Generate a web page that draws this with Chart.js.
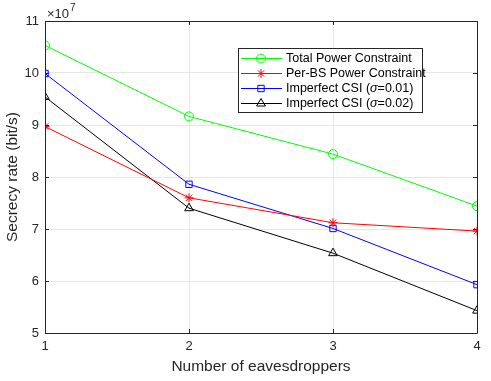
<!DOCTYPE html>
<html>
<head>
<meta charset="utf-8">
<script src="https://cdn.jsdelivr.net/npm/chart.js@4/dist/chart.umd.min.js"></script>
<style>
  html, body { margin: 0; padding: 0; background: #fff; }
  #wrap { width: 491px; height: 381px; }
</style>
</head>
<body>
<div id="wrap"><canvas id="secrecyChart" width="491" height="381"></canvas></div>
<script>
// x axis: number of eavesdroppers
const eavesdroppers = [1, 2, 3, 4];

// secrecy rate, in units of 1e7 bit/s
const totalPower = [10.53, 9.165, 8.44, 7.44];
const perBsPower = [8.97, 7.60, 7.12, 6.96];
const imperfect001 = [9.99, 7.86, 7.01, 5.93];
const imperfect002 = [9.54, 7.40, 6.535, 5.43];

const yTicks = [5, 6, 7, 8, 9, 10, 11];
const seriesNames = [
  ["Total Power Constraint"],
  ["Per-BS Power Constraint"],
  ["Imperfect CSI (", "σ", "=0.01)"],
  ["Imperfect CSI (", "σ", "=0.02)"]
];

const FONT = "'Liberation Sans', Arial, Helvetica, sans-serif";

function toPoints(values) {
  return values.map((v, i) => ({ x: eavesdroppers[i], y: v }));
}

function makeDataset(values, color, pointStyle, radius) {
  return {
    data: toPoints(values),
    borderColor: color,
    backgroundColor: "rgba(0,0,0,0)",
    borderWidth: 1,
    pointStyle: pointStyle,
    pointRadius: radius,
    pointBorderColor: color,
    pointBackgroundColor: "rgba(0,0,0,0)",
    pointBorderWidth: 1,
    tension: 0
  };
}

// MATLAB style box, inward ticks, exponent label and legend
const matlabFrame = {
  id: "matlabFrame",
  afterDraw(chart) {
    const ctx = chart.ctx;
    const a = chart.chartArea;
    const xs = chart.scales.x, ys = chart.scales.y;
    ctx.save();
    ctx.strokeStyle = "#262626";
    ctx.lineWidth = 1;
    ctx.beginPath();
    ctx.rect(Math.round(a.left) + 0.5, Math.round(a.top) + 0.5,
      Math.round(a.right - a.left), Math.round(a.bottom - a.top));
    ctx.stroke();
    const tl = 4;
    ctx.beginPath();
    eavesdroppers.forEach(v => {
      const px = Math.round(xs.getPixelForValue(v)) + 0.5;
      ctx.moveTo(px, a.bottom); ctx.lineTo(px, a.bottom - tl);
      ctx.moveTo(px, a.top); ctx.lineTo(px, a.top + tl);
    });
    yTicks.forEach(v => {
      const py = Math.round(ys.getPixelForValue(v)) + 0.5;
      ctx.moveTo(a.left, py); ctx.lineTo(a.left + tl, py);
      ctx.moveTo(a.right, py); ctx.lineTo(a.right - tl, py);
    });
    ctx.stroke();

    // x10^7
    ctx.fillStyle = "#262626";
    ctx.textBaseline = "alphabetic";
    ctx.font = "13px " + FONT;
    ctx.fillText("\u00d710", a.left + 2, a.top - 3);
    const w = ctx.measureText("\u00d710").width;
    ctx.font = "10px " + FONT;
    ctx.fillText("7", a.left + 3 + w, a.top - 10);

    // legend
    const lx = 238, ly = 48, lw = 184, lh = 64;
    ctx.fillStyle = "#fff";
    ctx.fillRect(lx, ly, lw, lh);
    ctx.strokeStyle = "#262626";
    ctx.strokeRect(lx + 0.5, ly + 0.5, lw, lh);
    chart.data.datasets.forEach((ds, i) => {
      const cy = ly + 10 + i * 15;
      ctx.strokeStyle = ds.borderColor;
      ctx.fillStyle = "rgba(0,0,0,0)";
      ctx.lineWidth = 1;
      ctx.beginPath();
      ctx.moveTo(lx + 3, cy + 0.5);
      ctx.lineTo(lx + 44, cy + 0.5);
      ctx.stroke();
      Chart.helpers.drawPoint(ctx, {
        pointStyle: ds.pointStyle,
        radius: ds.pointRadius,
        borderWidth: 1,
        rotation: 0
      }, lx + 23, cy + 0.5);
      ctx.fillStyle = "#000";
      ctx.textBaseline = "middle";
      let tx = lx + 48;
      seriesNames[i].forEach((part, j) => {
        ctx.font = (j === 1 ? "italic " : "") + "12.5px " + FONT;
        ctx.fillText(part, tx, cy + 1);
        tx += ctx.measureText(part).width;
      });
    });
    ctx.restore();
  }
};

new Chart(document.getElementById("secrecyChart"), {
  type: "line",
  data: {
    datasets: [
      makeDataset(totalPower, "#00ff00", "circle", 4.5),
      makeDataset(perBsPower, "#ff0000", "star", 4.5),
      makeDataset(imperfect001, "#0000ff", "rect", 4.5),
      makeDataset(imperfect002, "#000000", "triangle", 5)
    ]
  },
  options: {
    responsive: false,
    animation: false,
    events: [],
    layout: { padding: { top: 21, right: 14, left: 0, bottom: 0 } },
    plugins: {
      legend: { display: false },
      tooltip: { enabled: false }
    },
    scales: {
      x: {
        type: "linear",
        min: 1,
        max: 4,
        afterFit: s => { s.height = 48; },
        afterBuildTicks: s => { s.ticks = eavesdroppers.map(v => ({ value: v })); },
        grid: { color: "#e6e6e6", drawTicks: false },
        border: { display: false },
        ticks: { color: "#262626", font: { family: FONT, size: 13 }, padding: 6 },
        title: {
          display: true,
          text: "Number of eavesdroppers",
          color: "#262626",
          font: { family: FONT, size: 15.5 },
          padding: { top: 0, bottom: 5 }
        }
      },
      y: {
        min: 5,
        max: 11,
        afterFit: s => { s.width = 45; },
        afterBuildTicks: s => { s.ticks = yTicks.map(v => ({ value: v })); },
        grid: { color: "#e6e6e6", drawTicks: false },
        border: { display: false },
        ticks: { color: "#262626", font: { family: FONT, size: 13 }, padding: 6 },
        title: {
          display: true,
          text: "Secrecy rate (bit/s)",
          color: "#262626",
          font: { family: FONT, size: 15.5 },
          padding: { top: 3, bottom: 0 }
        }
      }
    }
  },
  plugins: [matlabFrame]
});
</script>
</body>
</html>
